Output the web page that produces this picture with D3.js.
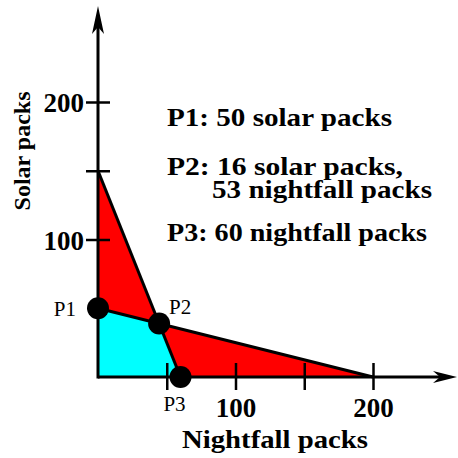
<!DOCTYPE html>
<html>
<head>
<meta charset="utf-8">
<script src="https://cdn.jsdelivr.net/npm/d3@7"></script>
<style>
  html, body { margin: 0; padding: 0; background: #fff; }
  svg { display: block; }
  text { font-family: "Liberation Serif", "Times New Roman", serif; fill: #000; }
</style>
</head>
<body>
<svg id="chart" width="458" height="458"></svg>
<script>
// Constraint lines as [nightfall, solar] end points
const constraintSteep = [[0, 150], [60, 0]];
const constraintFlat = [[0, 50], [200, 0]];

// Axis ticks and their labels
const nightfallTicks = [50, 100, 150, 200];
const nightfallTickLabels = ["", "100", "", "200"];
const solarTicks = [100, 150, 200];
const solarTickLabels = ["100", "", "200"];

// Corner points of the feasible region
const pointNames = ["P1", "P2", "P3"];

// Annotation lines
const noteLines = [
  "P1: 50 solar packs",
  "P2: 16 solar packs,",
  "53 nightfall packs",
  "P3: 60 nightfall packs"
];

const svg = d3.select("#chart");

const x = d3.scaleLinear().domain([0, 200]).range([98, 373]);
const y = d3.scaleLinear().domain([0, 200]).range([377, 102]);

// Intersection of the two constraint lines
function intersect(a, b) {
  const [[x1, y1], [x2, y2]] = a;
  const [[x3, y3], [x4, y4]] = b;
  const d = (x1 - x2) * (y3 - y4) - (y1 - y2) * (x3 - x4);
  const t = ((x1 - x3) * (y3 - y4) - (y1 - y3) * (x3 - x4)) / d;
  return [x1 + t * (x2 - x1), y1 + t * (y2 - y1)];
}

const p1 = constraintFlat[0];
const p2 = intersect(constraintSteep, constraintFlat);
const p3 = constraintSteep[1];
const points = [p1, p2, p3];

const line = d3.line().x(d => x(d[0])).y(d => y(d[1]));

// Feasible region (cyan) and the two regions satisfying only one constraint (red)
svg.append("path")
  .attr("d", line([[0, 0], p1, p2, p3]) + "Z")
  .attr("fill", "#00ffff");
svg.append("path")
  .attr("d", line([constraintSteep[0], p2, p1]) + "Z")
  .attr("fill", "#ff0000");
svg.append("path")
  .attr("d", line([p2, constraintFlat[1], p3]) + "Z")
  .attr("fill", "#ff0000");

// Constraint lines
[constraintSteep, constraintFlat].forEach(c => {
  svg.append("path")
    .attr("d", line(c))
    .attr("fill", "none")
    .attr("stroke", "#000")
    .attr("stroke-width", 3);
});

// Axis lines with arrow heads
svg.append("line")
  .attr("x1", x(0)).attr("x2", 444)
  .attr("y1", y(0)).attr("y2", y(0))
  .attr("stroke", "#000").attr("stroke-width", 3);
svg.append("line")
  .attr("x1", x(0)).attr("x2", x(0))
  .attr("y1", y(0) + 1.5).attr("y2", 20)
  .attr("stroke", "#000").attr("stroke-width", 3);
svg.append("path")
  .attr("d", `M457,${y(0)} L433,${y(0) - 6} L440,${y(0)} L433,${y(0) + 6} Z`)
  .attr("fill", "#000");
svg.append("path")
  .attr("d", `M${x(0)},6 L${x(0) - 6},34 L${x(0)},27 L${x(0) + 6},34 Z`)
  .attr("fill", "#000");

// Nightfall (x) axis ticks crossing the axis line
const xAxis = d3.axisBottom(x)
  .tickValues(nightfallTicks)
  .tickSize(27)
  .tickPadding(0)
  .tickFormat((d, i) => nightfallTickLabels[i]);
const gx = svg.append("g")
  .attr("transform", `translate(0,${y(0) - 14})`)
  .call(xAxis);
gx.select(".domain").remove();
gx.selectAll(".tick line").attr("stroke", "#000").attr("stroke-width", 2.5);
gx.selectAll(".tick text")
  .attr("y", 54)
  .attr("dy", null)
  .attr("font-size", 27)
  .attr("font-weight", "bold")
  .attr("font-family", "'Liberation Serif', 'Times New Roman', serif")
  .attr("fill", "#000");

// Solar (y) axis ticks crossing the axis line
const yAxis = d3.axisLeft(y)
  .tickValues(solarTicks)
  .tickSize(24)
  .tickPadding(2)
  .tickFormat((d, i) => solarTickLabels[i]);
const gy = svg.append("g")
  .attr("transform", `translate(${x(0) + 12},0)`)
  .call(yAxis);
gy.select(".domain").remove();
gy.selectAll(".tick line").attr("stroke", "#000").attr("stroke-width", 2.5);
gy.selectAll(".tick text")
  .attr("dy", "0.36em")
  .attr("font-size", 27)
  .attr("font-weight", "bold")
  .attr("font-family", "'Liberation Serif', 'Times New Roman', serif")
  .attr("fill", "#000");

// Corner point markers
svg.selectAll("circle.pt")
  .data(points)
  .join("circle")
  .attr("class", "pt")
  .attr("cx", d => x(d[0]))
  .attr("cy", d => y(d[1]))
  .attr("r", 11)
  .attr("fill", "#000");

// Point names
const nameOffsets = [
  { dx: -22, dy: 8, anchor: "end" },
  { dx: 10, dy: -10, anchor: "start" },
  { dx: -6, dy: 34, anchor: "middle" }
];
svg.selectAll("text.pname")
  .data(points)
  .join("text")
  .attr("class", "pname")
  .attr("x", (d, i) => x(d[0]) + nameOffsets[i].dx)
  .attr("y", (d, i) => y(d[1]) + nameOffsets[i].dy)
  .attr("text-anchor", (d, i) => nameOffsets[i].anchor)
  .attr("font-size", 21)
  .text((d, i) => pointNames[i]);

// Annotation block (wide bold serif)
const noteX = [167, 167, 212, 167];
const noteY = [126, 175, 198, 241];
const noteWidth = [225, 236, 220, 260];
svg.selectAll("text.note")
  .data(noteLines)
  .join("text")
  .attr("class", "note")
  .attr("x", (d, i) => noteX[i])
  .attr("y", (d, i) => noteY[i])
  .attr("font-size", 25)
  .attr("font-weight", "bold")
  .attr("textLength", (d, i) => noteWidth[i])
  .attr("lengthAdjust", "spacingAndGlyphs")
  .text(d => d);

// Axis titles
svg.append("text")
  .attr("x", 275)
  .attr("y", 448)
  .attr("text-anchor", "middle")
  .attr("font-size", 26)
  .attr("font-weight", "bold")
  .attr("textLength", 186)
  .attr("lengthAdjust", "spacingAndGlyphs")
  .text("Nightfall packs");

svg.append("text")
  .attr("transform", "translate(30,151) rotate(-90)")
  .attr("text-anchor", "middle")
  .attr("font-size", 24)
  .attr("font-weight", "bold")
  .text("Solar packs");
</script>
</body>
</html>
